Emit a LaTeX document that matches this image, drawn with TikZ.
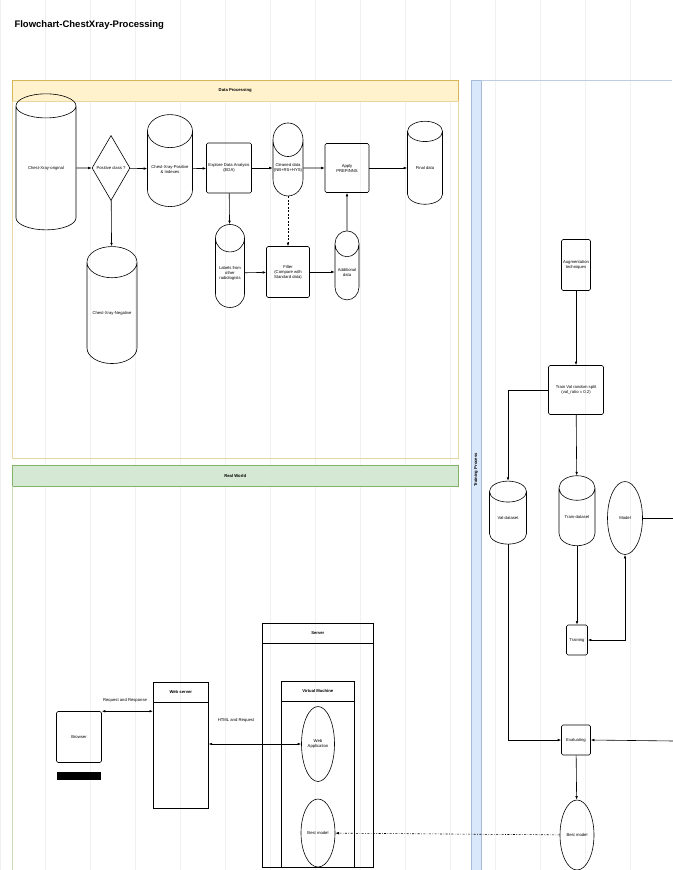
\documentclass[tikz,border=0pt]{standalone}
\usepackage{fontspec}
\setmainfont{Liberation Sans}
\usepackage{xcolor}
\usetikzlibrary{arrows.meta, shapes.geometric}

\definecolor{dpfill}{HTML}{FFF2CC}
\definecolor{dpdraw}{HTML}{D6B656}
\definecolor{rwfill}{HTML}{D5E8D4}
\definecolor{rwdraw}{HTML}{82B366}
\definecolor{tpfill}{HTML}{DAE8FC}
\definecolor{tpdraw}{HTML}{6C8EBF}

\begin{document}
\begin{tikzpicture}[
        x=1pt, y=-1pt,
        every node/.style={font=\fontsize{4.2}{5}\selectfont},
        box/.style={
            draw,
            rounded corners=1.5pt,
            align=center,
            inner sep=0.5pt,
            line width=0.6pt
        },
        db/.style={
            draw,
            cylinder,
            shape border rotate=90,
            aspect=1,
            align=center,
            inner sep=0pt,
            line width=0.6pt
        },
        oval/.style={
            draw,
            ellipse,
            align=center,
            inner sep=0pt,
            line width=0.6pt
        },
        lanehead/.style={
            anchor=north west,
            inner sep=0pt,
            font=\fontsize{4.2}{5}\selectfont\bfseries
        },
        container/.style={
            draw,
            anchor=north west,
            inner sep=0pt,
            line width=0.6pt
        },
        arrow/.style={
            -{Latex[length=3.5pt, width=2.6pt]},
            line width=0.6pt
        },
        biarrow/.style={
            {Latex[length=3.5pt, width=2.6pt]}-{Latex[length=3.5pt, width=2.6pt]},
            line width=0.6pt
        },
        gridline/.style={
            gray!11,
            line width=0.4pt
        }
    ]

    \useasboundingbox (0,0) rectangle (672,870);

    % Background grid
    \draw[gridline, xstep=45, ystep=33.5] (0,0) grid (672,870);

    % Title
    \node[anchor=west, font=\fontsize{9.5}{11}\selectfont\bfseries] (title) at (11,25) {Flowchart-ChestXray-Processing};

    % Lanes
    \node[lanehead, draw=dpdraw, fill=dpfill, minimum width=446pt, minimum height=21pt] (dphead) at (12,80) {Data Processing};
    \draw[dpdraw!55] (12,101) rectangle (458,458);

    \node[lanehead, draw=rwdraw, fill=rwfill, minimum width=446pt, minimum height=21pt] (rwhead) at (12,465) {Real World};
    \draw[rwdraw!45] (12,486) -- (12,872);

    \draw[tpdraw!60, fill=tpfill] (471,80) rectangle (481,872);
    \draw[tpdraw!45] (481,80) -- (672,80);
    \node[rotate=90, font=\fontsize{4.2}{5}\selectfont\bfseries] (tplabel) at (476,470) {Training Process};

    % Data processing
    \node[db, aspect=0.67, minimum width=60pt, minimum height=136pt] (original) at (46,168) {Chest-Xray-original};
    \node[draw, diamond, inner sep=0pt, line width=0.6pt, minimum width=38pt, minimum height=65pt] (positive) at (111,168) {Positive class ?};
    \node[db, aspect=0.89, minimum width=45pt, minimum height=92pt] (posidx) at (170,169) {Chest-Xray-Positive\\\& Indexes};
    \node[db, aspect=0.8, minimum width=50pt, minimum height=117pt] (negative) at (112,313) {Chest-Xray-Negative};
    \node[box, minimum width=45pt, minimum height=50pt] (eda) at (229,168) {Explore Data Analysis\\(EDA)};
    \node[db, aspect=1.2, minimum width=30pt, minimum height=73pt] (cleaned) at (288,168) {Cleaned data\\(NB+RS+HYS)};
    \node[box, minimum width=44pt, minimum height=49pt] (apply) at (347,168) {Apply\\PREPINNS};
    \node[db, aspect=1.1, minimum width=35pt, minimum height=83pt] (final) at (425,168) {Final data};
    \node[db, aspect=1.25, minimum width=29pt, minimum height=83pt] (labels) at (230,273) {Labels from\\other\\radiologists};
    \node[box, minimum width=43pt, minimum height=51pt] (filter) at (288,272) {Filter\\(Compare with\\Standard data)};
    \node[db, aspect=1.4, minimum width=24pt, minimum height=69pt] (additional) at (347,272) {Additional\\data};

    \draw[arrow] (original) -- (positive);
    \draw[arrow] (positive) -- (posidx);
    \draw[arrow] (positive) -- (negative);
    \draw[arrow] (posidx) -- (eda);
    \draw[arrow] (eda) -- (cleaned);
    \draw[arrow] (cleaned) -- (apply);
    \draw[arrow] (apply) -- (final);
    \draw[arrow] (eda) -- (labels);
    \draw[arrow] (labels) -- (filter);
    \draw[arrow, dash pattern=on 2pt off 1.5pt] (cleaned) -- (filter);
    \draw[arrow] (filter) -- (additional);
    \draw[arrow] (additional) -- (apply);

    % Real world
    \node[box, minimum width=45pt, minimum height=51pt] (browser) at (79,737) {Browser};
    \fill (57,772) rectangle (101,780);

    \node[container, minimum width=55pt, minimum height=126pt] (websrv) at (153,682) {};
    \node[container, minimum width=55pt, minimum height=20pt, font=\fontsize{4.2}{5}\selectfont\bfseries] (websrvhead) at (153,682) {Web server};

    \node[container, minimum width=111pt, minimum height=244pt] (server) at (262,623) {};
    \node[container, minimum width=111pt, minimum height=20pt, font=\fontsize{4.2}{5}\selectfont\bfseries] (serverhead) at (262,623) {Server};

    \node[container, minimum width=73pt, minimum height=186pt] (vm) at (281,681) {};
    \node[container, minimum width=73pt, minimum height=20pt, font=\fontsize{4.2}{5}\selectfont\bfseries] (vmhead) at (281,681) {Virtual Machine};

    \node[oval, minimum width=33pt, minimum height=75pt] (webapp) at (318,744) {Web\\Application};
    \node[oval, minimum width=34pt, minimum height=68pt] (vmbest) at (318,833) {Best model};

    \draw[biarrow] (browser.north east) -- (browser.north east -| websrv.west);
    \node (reqlabel) at (125,700) {Request and Response};
    \draw[biarrow] (websrv.east |- webapp.west) -- (webapp.west);
    \node (htmllabel) at (236,720) {HTML and Request};

    % Training process
    \node[box, minimum width=29pt, minimum height=51pt] (augment) at (576,265) {Augmentation\\techniques};
    \node[box, minimum width=55pt, minimum height=49pt] (split) at (576,390) {Train Val random split\\(val\_ratio = 0.2)};
    \node[db, aspect=1.0, minimum width=37pt, minimum height=63pt] (valset) at (508,518) {Val-dataset};
    \node[db, aspect=1.0, minimum width=36pt, minimum height=70pt] (trainset) at (577,517) {Train-dataset};
    \node[oval, minimum width=35pt, minimum height=73pt] (model) at (625,518) {Model};
    \node[box, minimum width=21pt, minimum height=30pt] (training) at (577,640) {Training};
    \node[box, minimum width=29pt, minimum height=30pt] (evaluating) at (576,740) {Evaluating};
    \node[oval, minimum width=34pt, minimum height=70pt] (bestmodel) at (577,835) {Best model};

    \coordinate (offa) at (674,518);
    \coordinate (offb) at (674,741);

    \draw[arrow] (augment) -- (split);
    \draw[arrow] (split.west) -| (valset.north);
    \draw[arrow] (split) -- (trainset);
    \draw[arrow] (trainset) -- (training);
    \draw[biarrow] (training.east) -| (model.south);
    \draw[line width=0.6pt] (model.east) -- (offa);
    \draw[arrow] (valset.south) |- (evaluating.west);
    \draw[arrow] (offb) -- (evaluating.east);
    \draw[arrow] (evaluating) -- (bestmodel);

    % Deployed model
    \draw[arrow, dash pattern=on 2pt off 1.5pt on 0.6pt off 1.5pt] (bestmodel) -- (vmbest);

\end{tikzpicture}
\end{document}
